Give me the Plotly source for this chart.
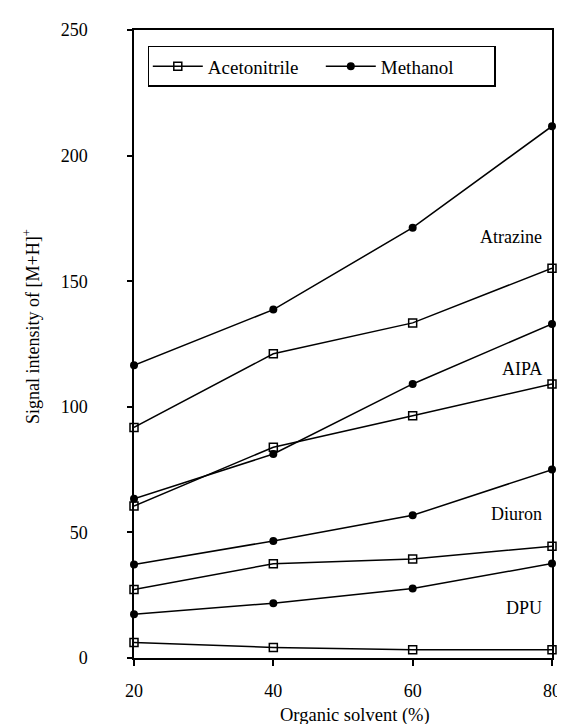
import plotly.graph_objects as go

solvent = [20, 40, 60, 80]
compounds = ["Atrazine", "AIPA", "Diuron", "DPU"]

acn_atrazine = [91.8, 121.1, 133.4, 155.2]
meoh_atrazine = [116.5, 138.7, 171.3, 211.7]
acn_aipa = [60.5, 83.9, 96.4, 109.1]
meoh_aipa = [63.4, 81.2, 109.1, 133.0]
acn_diuron = [27.3, 37.5, 39.4, 44.5]
meoh_diuron = [37.2, 46.6, 56.8, 75.0]
acn_dpu = [6.2, 4.2, 3.3, 3.3]
meoh_dpu = [17.4, 21.8, 27.7, 37.6]

label_y = [167.6, 115.0, 57.4, 19.8]
y_ticks = [0, 50, 100, 150, 200, 250]
x_ticks = [20, 40, 60, 80]

FONT = "Liberation Serif, Times New Roman, serif"

acn_series = [acn_atrazine, acn_aipa, acn_diuron, acn_dpu]
meoh_series = [meoh_atrazine, meoh_aipa, meoh_diuron, meoh_dpu]

fig = go.Figure()
for i, ys in enumerate(acn_series):
    fig.add_trace(go.Scatter(
        x=solvent, y=ys, mode="lines+markers", name="Acetonitrile",
        legendgroup="acn", showlegend=(i == 0), cliponaxis=False,
        line=dict(color="black", width=1.5),
        marker=dict(symbol="square-open", size=8, color="black",
                    line=dict(width=1.5, color="black")),
    ))
for i, ys in enumerate(meoh_series):
    fig.add_trace(go.Scatter(
        x=solvent, y=ys, mode="lines+markers", name="Methanol",
        legendgroup="meoh", showlegend=(i == 0), cliponaxis=False,
        line=dict(color="black", width=1.5),
        marker=dict(symbol="circle", size=8, color="black"),
    ))

for name, yv in zip(compounds, label_y):
    fig.add_annotation(x=80, y=yv, text=name, showarrow=False,
                       xanchor="right", yanchor="middle", xshift=-8,
                       font=dict(family=FONT, size=18, color="black"))

fig.add_annotation(xref="paper", yref="paper", x=0.529, y=0, yshift=-57,
                   text="Organic solvent (%)", showarrow=False,
                   xanchor="center", yanchor="middle",
                   font=dict(family=FONT, size=18.5, color="black"))
fig.add_annotation(xref="paper", yref="paper", x=-0.245, y=0.528,
                   text="Signal intensity of [M+H]<sup>+</sup>", showarrow=False,
                   textangle=-90, xanchor="center", yanchor="middle",
                   font=dict(family=FONT, size=18, color="black"))

fig.update_layout(
    width=565, height=724,
    margin=dict(l=126, r=12, t=19, b=74),
    paper_bgcolor="white", plot_bgcolor="white",
    font=dict(family=FONT, size=18, color="black"),
    showlegend=True,
    legend=dict(orientation="h", x=0.033, y=0.9746, xanchor="left", yanchor="top",
                bordercolor="black", borderwidth=1.5, bgcolor="white",
                font=dict(family=FONT, size=19, color="black"),
                itemwidth=50, entrywidth=108, entrywidthmode="pixels"),
    xaxis=dict(range=[20, 80], tickvals=x_ticks, ticks="outside", ticklen=6,
               tickwidth=1.5, tickcolor="black", showline=True, linecolor="black",
               linewidth=1.5, mirror=True, showgrid=False, zeroline=False,
               ticklabelstandoff=10, tickfont=dict(family=FONT, size=18)),
    yaxis=dict(range=[0, 250], tickvals=y_ticks, ticks="outside", ticklen=5,
               tickwidth=1.5, tickcolor="black", showline=True, linecolor="black",
               linewidth=1.5, mirror=True, showgrid=False, zeroline=False,
               ticklabelstandoff=36, tickfont=dict(family=FONT, size=18)),
    xaxis2=dict(range=[20, 80], tickvals=x_ticks, ticks="inside", ticklen=6,
                tickwidth=1.5, tickcolor="black", showticklabels=False,
                showline=False, showgrid=False, zeroline=False,
                overlaying="x", anchor="y"),
    yaxis2=dict(range=[0, 250], tickvals=y_ticks, ticks="inside", ticklen=7,
                tickwidth=1.5, tickcolor="black", showticklabels=False,
                showline=False, showgrid=False, zeroline=False,
                overlaying="y", anchor="x"),
)

fig.write_html("out.html")
